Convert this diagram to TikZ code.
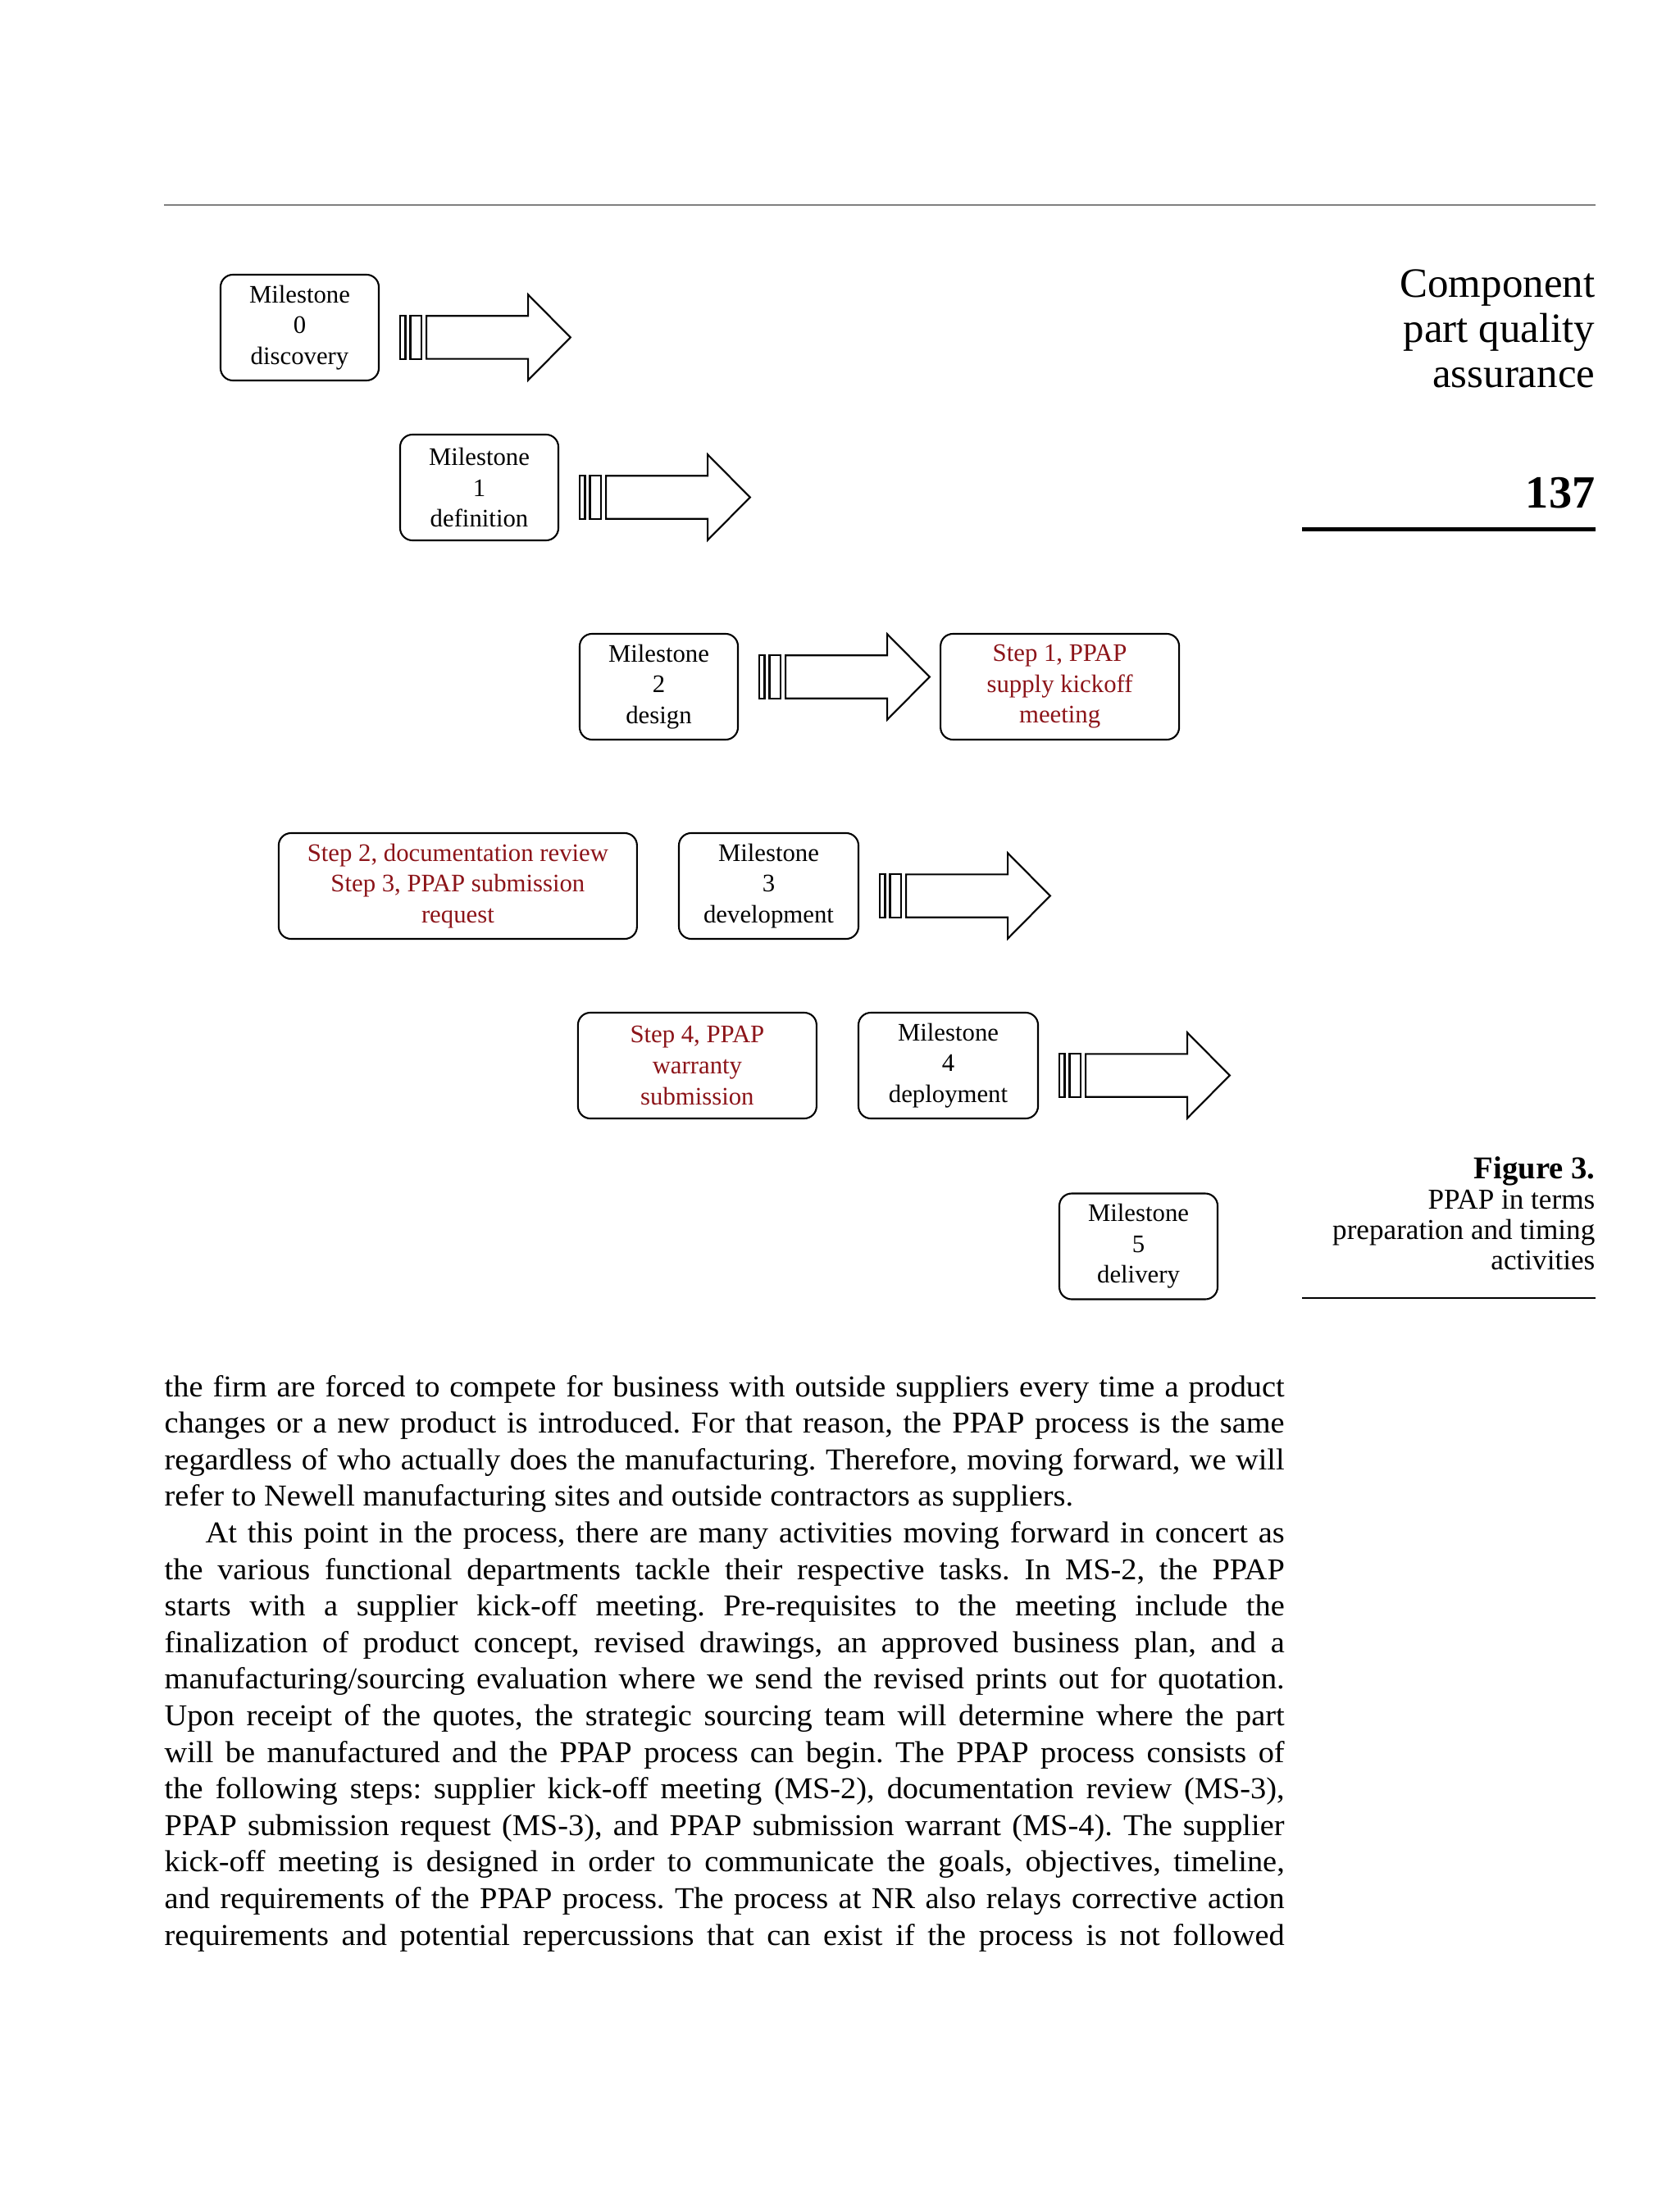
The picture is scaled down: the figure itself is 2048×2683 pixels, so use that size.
\documentclass[tikz,border=0pt]{standalone}
\usepackage{fontspec}
\setmainfont{Liberation Serif}
\newfontfamily\bodyfont[FakeStretch=1.04]{Liberation Serif}
\usepackage{tikz}
\usetikzlibrary{positioning}
\definecolor{stepred}{RGB}{140,20,25}
\newlength{\bodyw}
\setlength{\bodyw}{136.6mm}
\newcommand{\jline}[1]{\makebox[\bodyw][s]{#1}}

\begin{document}
\frenchspacing
\begin{tikzpicture}[
      x=0.1mm, y=-0.1mm,
      mstone/.style  = {rectangle, draw, rounded corners=1.5mm,
                        line width=0.6pt, align=center,
                        minimum height=12.9mm, minimum width=19.3mm,
                        inner sep=1mm, font=\fontsize{8.75}{10.7}\selectfont},
      stepbox/.style = {mstone, text=stepred},
      margin/.style  = {anchor=base east, align=right, inner sep=0pt},
      bodyline/.style = {anchor=base west, inner sep=0pt,
                         font=\bodyfont\fontsize{10.5}{12.6}\selectfont},
      pics/fatarrow/.style = {code={
          \draw[line width=0.6pt] (0,-26.2) rectangle (6.4,26.2);
          \draw[line width=0.6pt] (12.4,-26.2) rectangle (26,26.2);
          \draw[line width=0.6pt] (32,-26.2) -- (156,-26.2) -- (156,-52.2)
               -- (207.7,0) -- (156,52.2) -- (156,26.2) -- (32,26.2) -- cycle;
      }}
    ]
    \fill[white] (0,0) rectangle (2048,2683);
    \useasboundingbox (0,0) rectangle (2048,2683);

    \coordinate (hl) at (200,250);
    \coordinate (hr) at (1946,250);
    \draw[gray, line width=0.4pt] (hl) -- (hr);

    \node[mstone] (m0) at (365.5,399.5) {Milestone\\0\\discovery};
    \node[mstone] (m1) at (584.5,594.5) {Milestone\\1\\definition};
    \node[mstone] (m2) at (803.5,837.5) {Milestone\\2\\design};
    \node[stepbox, minimum width=29.1mm, right=24.5mm of m2] (s1)
         {Step 1, PPAP\\supply kickoff\\meeting};
    \node[mstone, minimum width=21.9mm] (m3) at (937.5,1080.5)
         {Milestone\\3\\development};
    \node[stepbox, minimum width=43.7mm, left=4.9mm of m3] (s23)
         {Step 2, documentation review\\Step 3, PPAP submission\\request};
    \node[mstone, minimum width=21.9mm] (m4) at (1156.5,1299.5)
         {Milestone\\4\\deployment};
    \node[stepbox, minimum width=29.1mm, left=4.9mm of m4] (s4)
         {Step 4, PPAP\\warranty\\submission};
    \node[mstone] (m5) at (1388.5,1520) {Milestone\\5\\delivery};

    \pic at ([xshift=2.5mm, yshift=-1.2mm]m0.east) {fatarrow};
    \pic at ([xshift=2.5mm, yshift=-1.2mm]m1.east) {fatarrow};
    \pic at ([xshift=2.5mm, yshift=1.2mm]m2.east)  {fatarrow};
    \pic at ([xshift=2.5mm, yshift=-1.2mm]m3.east) {fatarrow};
    \pic at ([xshift=2.5mm, yshift=-1.2mm]m4.east) {fatarrow};

    \node[margin, font=\fontsize{14.5}{15.65}\selectfont] (title) at (1946,473)
         {Component\\part quality\\assurance};
    \node[margin, font=\fontsize{16}{18}\selectfont\bfseries] (pageno) at (1946,620) {137};
    \coordinate (ra) at (1588,645.5);
    \coordinate (rb) at (1946,645.5);
    \draw[line width=0.5mm] (ra) -- (rb);
    \node[margin, font=\fontsize{10}{10.5}\selectfont] (caption) at (1946,1548)
         {{\fontsize{11}{10.5}\selectfont\bfseries Figure 3.}\\PPAP in terms\\
          preparation and timing\\activities};
    \coordinate (ca) at (1588,1583);
    \coordinate (cb) at (1946,1583);
    \draw[line width=0.2mm] (ca) -- (cb);

    \node[bodyline] (l1) at (200,1703)
         {\jline{the firm are forced to compete for business with outside suppliers every time a product}};
    \node[bodyline] (l2) at (200,1747.6)
         {\jline{changes or a new product is introduced. For that reason, the PPAP process is the same}};
    \node[bodyline] (l3) at (200,1792.2)
         {\jline{regardless of who actually does the manufacturing. Therefore, moving forward, we will}};
    \node[bodyline] (l4) at (200,1836.8)
         {refer to Newell manufacturing sites and outside contractors as suppliers.};
    \node[bodyline] (l5) at (200,1881.4)
         {\jline{\hspace*{5mm}At this point in the process, there are many activities moving forward in concert as}};
    \node[bodyline] (l6) at (200,1926)
         {\jline{the various functional departments tackle their respective tasks. In MS-2, the PPAP}};
    \node[bodyline] (l7) at (200,1970.6)
         {\jline{starts with a supplier kick-off meeting. Pre-requisites to the meeting include the}};
    \node[bodyline] (l8) at (200,2015.2)
         {\jline{finalization of product concept, revised drawings, an approved business plan, and a}};
    \node[bodyline] (l9) at (200,2059.8)
         {\jline{manufacturing/sourcing evaluation where we send the revised prints out for quotation.}};
    \node[bodyline] (l10) at (200,2104.4)
         {\jline{Upon receipt of the quotes, the strategic sourcing team will determine where the part}};
    \node[bodyline] (l11) at (200,2149)
         {\jline{will be manufactured and the PPAP process can begin. The PPAP process consists of}};
    \node[bodyline] (l12) at (200,2193.6)
         {\jline{the following steps: supplier kick-off meeting (MS-2), documentation review (MS-3),}};
    \node[bodyline] (l13) at (200,2238.2)
         {\jline{PPAP submission request (MS-3), and PPAP submission warrant (MS-4). The supplier}};
    \node[bodyline] (l14) at (200,2282.8)
         {\jline{kick-off meeting is designed in order to communicate the goals, objectives, timeline,}};
    \node[bodyline] (l15) at (200,2327.4)
         {\jline{and requirements of the PPAP process. The process at NR also relays corrective action}};
    \node[bodyline] (l16) at (200,2372)
         {\jline{requirements and potential repercussions that can exist if the process is not followed}};
  \end{tikzpicture}
\end{document}
